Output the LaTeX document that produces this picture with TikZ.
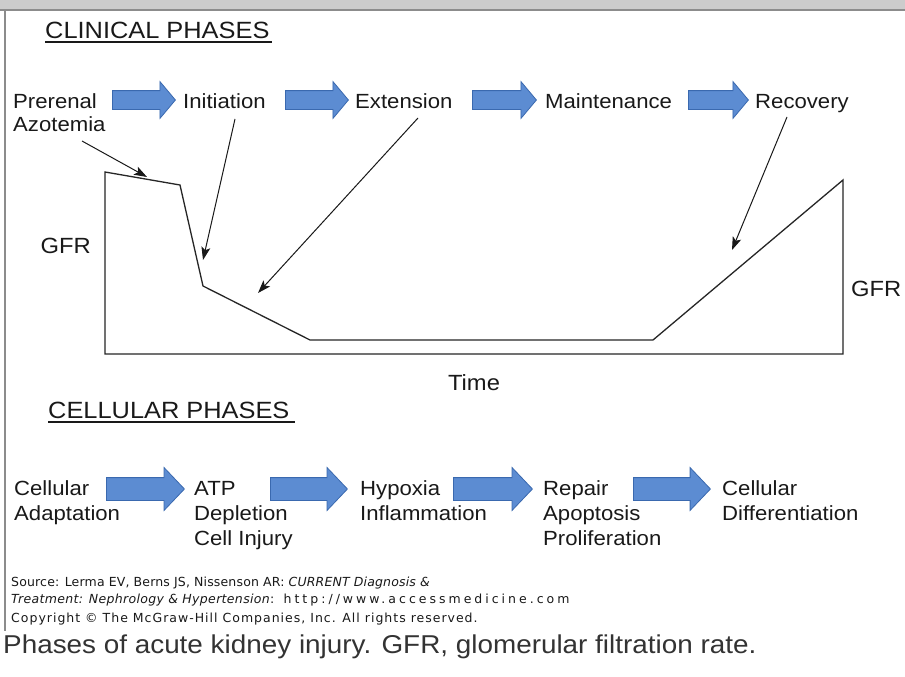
\documentclass[tikz,border=0pt]{standalone}
\usepackage{fontspec}
\setmainfont[FakeStretch=1.08]{Liberation Sans}
\newfontfamily\srcfont{DejaVu Sans}
\usetikzlibrary{shapes.arrows,arrows.meta}
\definecolor{arrowfill}{RGB}{92,140,210}
\definecolor{arrowedge}{RGB}{58,105,175}
\definecolor{barfill}{RGB}{204,204,204}
\definecolor{barline}{RGB}{140,140,140}
\definecolor{txt}{RGB}{25,25,25}
\definecolor{capt}{RGB}{51,51,51}
\newcommand{\lsp}[2]{{\addfontfeature{LetterSpace=#1}#2}}
\begin{document}
\begin{tikzpicture}[x=1pt,y=-1pt,
  lbl/.style={font=\fontsize{20.5}{25}\selectfont, text=txt, inner sep=0, anchor=base west, align=left},
  glbl/.style={font=\fontsize{22}{26}\selectfont, text=txt, inner sep=0, anchor=base west},
  ttl/.style={font=\fontsize{23.5}{28}\selectfont, text=txt, inner sep=0, anchor=base west},
  ulin/.style={draw=txt, line width=2},
  clinarrow/.style={single arrow, draw=arrowedge, fill=arrowfill, line width=0.8,
     inner xsep=0, inner ysep=9, single arrow head extend=9, single arrow tip angle=100, anchor=tail},
  cellarrow/.style={single arrow, draw=arrowedge, fill=arrowfill, line width=0.8,
     inner xsep=0, inner ysep=11, single arrow head extend=10, single arrow tip angle=93, anchor=tail},
  curve/.style={draw=black!85, line width=1.3, line join=miter},
  pointer/.style={draw=black!90, line width=1, -{Stealth[length=13,width=9,inset=3]}},
  src/.style={font=\srcfont\fontsize{12.5}{14}\selectfont, text=txt, inner sep=0, anchor=base west},
]
\useasboundingbox (0,0) rectangle (905,677);
\fill[white] (0,0) rectangle (905,677);
\fill[barfill] (0,0) rectangle (905,10);
\draw[barline, line width=2] (0,10.5) -- (905,10.5);
\draw[barline, line width=2] (4.5,10) -- (4.5,631);

% titles
\node[ttl] (clin) at (45,39) {CLINICAL PHASES};
\draw[ulin] ([yshift=-3.5pt]clin.base west) -- ([yshift=-3.5pt,xshift=2pt]clin.base east);
\node[ttl] (cell) at (48,418) {CELLULAR PHASES};
\draw[ulin] ([yshift=-4pt]cell.base west) -- ([yshift=-4pt,xshift=5pt]cell.base east);

% clinical row
\node[lbl, font=\fontsize{20.5}{23}\selectfont] (pre) at (13,131) {Prerenal\\Azotemia};
\node[clinarrow, minimum height=63] (ca1) at (112,100) {};
\node[lbl] (ini) at (183,108) {Initiation};
\node[clinarrow, minimum height=63] (ca2) at (285,100) {};
\node[lbl] (ext) at (355,108) {Extension};
\node[clinarrow, minimum height=64] (ca3) at (472,100) {};
\node[lbl] (mai) at (545,108) {Maintenance};
\node[clinarrow, minimum height=60] (ca4) at (688,100) {};
\node[lbl] (rec) at (755,108) {Recovery};

% graph
\coordinate (o) at (105,354);
\coordinate (a) at (105,172);
\coordinate (b) at (180,185);
\coordinate (c) at (203,286);
\coordinate (d) at (310,340);
\coordinate (e) at (653,340);
\coordinate (f) at (843,180);
\coordinate (g) at (843,354);
\draw[curve] (o) -- (a) -- (b) -- (c) -- (d) -- (e) -- (f) -- (g) -- cycle;

\node[glbl, anchor=base east] (gfrl) at (91,253) {GFR};
\node[glbl] (gfrr) at (851,296) {GFR};
\node[glbl, anchor=base] (time) at (474,390) {Time};

% pointers
\coordinate (p1s) at (82,141);  \coordinate (p1e) at (147,177);
\coordinate (p2s) at (235,119); \coordinate (p2e) at (203,260);
\coordinate (p3s) at (418,118); \coordinate (p3e) at (258,293);
\coordinate (p4s) at (787,117); \coordinate (p4e) at (732,250);
\draw[pointer] (p1s) -- (p1e);
\draw[pointer] (p2s) -- (p2e);
\draw[pointer] (p3s) -- (p3e);
\draw[pointer] (p4s) -- (p4e);

% cellular row
\node[lbl] (cad) at (14,520) {Cellular\\Adaptation};
\node[cellarrow, minimum height=78] (la1) at (106,489) {};
\node[lbl] (atp) at (194,545) {ATP\\Depletion\\Cell Injury};
\node[cellarrow, minimum height=77] (la2) at (270,489) {};
\node[lbl] (hyp) at (360,520) {Hypoxia\\Inflammation};
\node[cellarrow, minimum height=79] (la3) at (453,489) {};
\node[lbl] (rep) at (543,545) {Repair\\Apoptosis\\Proliferation};
\node[cellarrow, minimum height=77] (la4) at (633,489) {};
\node[lbl] (cdf) at (722,520) {Cellular\\Differentiation};

% source
\node[src] (s1) at (11,586) {\lsp{1.3}{Source: Lerma EV, Berns JS, Nissenson AR: \textit{CURRENT Diagnosis \&}}};
\node[src] (s2) at (11,603) {\lsp{2.7}{\textit{Treatment: Nephrology \& Hypertension}}\lsp{24}{: http://www.accessmedicine.com}};
\node[src] (s3) at (11,622) {\lsp{8}{Copyright © The McGraw-Hill Companies, Inc. All rights reserved.}};
\node[inner sep=0, anchor=base west, text=capt, font=\fontsize{25.8}{30}\selectfont] (cap) at (3,653) {Phases of acute kidney injury. GFR, glomerular filtration rate.};
\end{tikzpicture}
\end{document}
